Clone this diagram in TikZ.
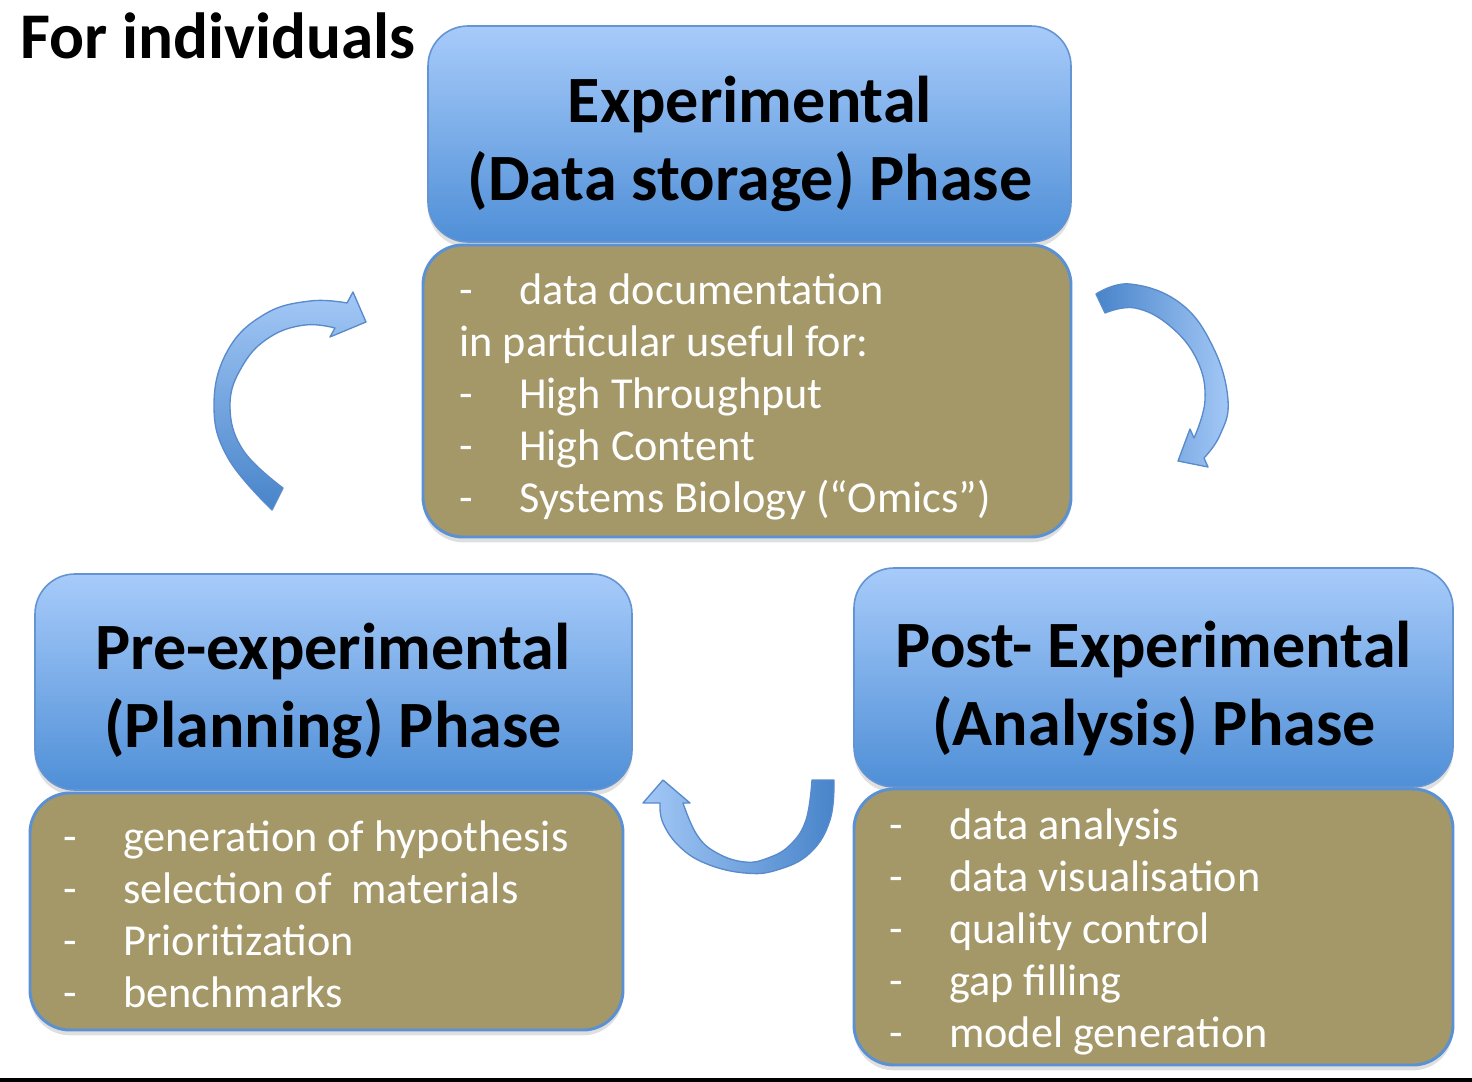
\documentclass[tikz,border=0pt]{standalone}
\usepackage{fontspec}
\setmainfont{Carlito}
\usetikzlibrary{shadows}

\definecolor{phasetop}{RGB}{167,203,250}
\definecolor{phasebot}{RGB}{79,143,215}
\definecolor{phaseline}{RGB}{100,148,210}
\definecolor{itemfill}{RGB}{164,151,104}
\definecolor{itemline}{RGB}{90,145,212}
\definecolor{arrowlight}{RGB}{163,200,246}
\definecolor{arrowdark}{RGB}{72,132,202}
\definecolor{arrowline}{RGB}{88,138,204}

\tikzset{every picture/.style={line width=0.75pt}}
\tikzset{
  boxshadow/.style={drop shadow={shadow xshift=0pt, shadow yshift=-4pt, opacity=0.25}},
  phasebox/.style={top color=phasetop, bottom color=phasebot, draw=phaseline, line width=1.2pt, rounded corners=30pt, boxshadow},
  itembox/.style={fill=itemfill, draw=itemline, line width=2.2pt, rounded corners=30pt, boxshadow},
  phasetext/.style={anchor=center, align=center, inner sep=0pt, font=\fontsize{49.6}{58.5}\selectfont\bfseries},
  itemtext/.style={anchor=west, align=left, inner sep=0pt, text=white, font=\fontsize{33.2}{39}\selectfont},
  cyclearrow/.style={draw=arrowline, line width=1pt, line join=round}
}
\newcommand{\itemdash}{\makebox[44.8pt][l]{-}}

\begin{document}
\begin{tikzpicture}[x=0.75pt,y=0.75pt,yscale=-1,xscale=1]
\useasboundingbox (0,0) rectangle (1472,1082);

%Shape: Rounded Rect [Experimental]
\shadedraw [phasebox] (428,26) rectangle (1071,242);
%Shape: Rounded Rect [Experimental items]
\draw [itembox] (423,245) rectangle (1071,537);
%Shape: Rounded Rect [Pre-experimental]
\shadedraw [phasebox] (35,574) rectangle (632,790);
%Shape: Rounded Rect [Pre-experimental items]
\draw [itembox] (30,793) rectangle (623,1030);
%Shape: Rounded Rect [Post-experimental]
\shadedraw [phasebox] (854,568) rectangle (1453,787);
%Shape: Rounded Rect [Post-experimental items]
\draw [itembox] (854,789) rectangle (1453,1065);

%Curved Arrow [to Experimental]
\shadedraw [cyclearrow, top color=arrowlight, bottom color=arrowdark] plot [smooth, tension=0.7] coordinates {(272,510) (228,458) (214,405) (228,350) (265,314) (310,301) (347,303)} -- (353,292) -- (366,322) -- (330,337) -- plot [smooth, tension=0.7] coordinates {(335,328) (305,325) (270,337) (243,365) (230,405) (243,450) (283,488)} -- cycle;
%Curved Arrow [to Post-experimental]
\shadedraw [cyclearrow, left color=arrowdark, right color=arrowlight] plot [smooth, tension=0.7] coordinates {(1096,294) (1130,284) (1180,303) (1213,347) (1228,400) (1220,435) (1204,458)} -- (1208,467) -- (1178,461) -- (1190,429) -- plot [smooth, tension=0.7] coordinates {(1194,438) (1205,400) (1197,360) (1170,326) (1135,308) (1105,313)} -- cycle;
%Curved Arrow [to Pre-experimental]
\shadedraw [cyclearrow, left color=arrowlight, right color=arrowdark] plot [smooth, tension=0.7] coordinates {(834,780) (830,820) (810,853) (777,870) (745,873) (707,864) (680,847) (663,823) (660,803)} -- (643,803) -- (663,780) -- (690,803) -- plot [smooth, tension=0.7] coordinates {(683,803) (697,835) (717,853) (745,862) (768,858) (790,845) (806,820) (812,780)} -- cycle;

%Straight Lines [bottom rule]
\draw [line width=3pt] (0,1079.5) -- (1472,1079.5);

% Text Node
\node (title) [anchor=base west, inner sep=0pt, font=\fontsize{48.9}{58.5}\selectfont\bfseries] at (20,58) {For individuals};
% Text Node
\node (exphead) [phasetext] at (750,144) {Experimental\\(Data storage) Phase};
% Text Node
\node (prehead) [phasetext] at (333,691) {Pre-experimental\\(Planning) Phase};
% Text Node
\node (posthead) [phasetext] at (1154,688) {Post- Experimental\\(Analysis) Phase};
% Text Node
\node (expitems) [itemtext] at (459,397) {\itemdash data documentation\\in particular useful for:\\\itemdash High Throughput\\\itemdash High Content\\\itemdash Systems Biology (“Omics”)};
% Text Node
\node (preitems) [itemtext] at (63,914) {\itemdash generation of hypothesis\\\itemdash selection of\ \ materials\\\itemdash Prioritization\\\itemdash benchmarks};
% Text Node
\node (postitems) [itemtext] at (889,932) {\itemdash data analysis\\\itemdash data visualisation\\\itemdash quality control\\\itemdash gap filling\\\itemdash model generation};

\end{tikzpicture}
\end{document}
